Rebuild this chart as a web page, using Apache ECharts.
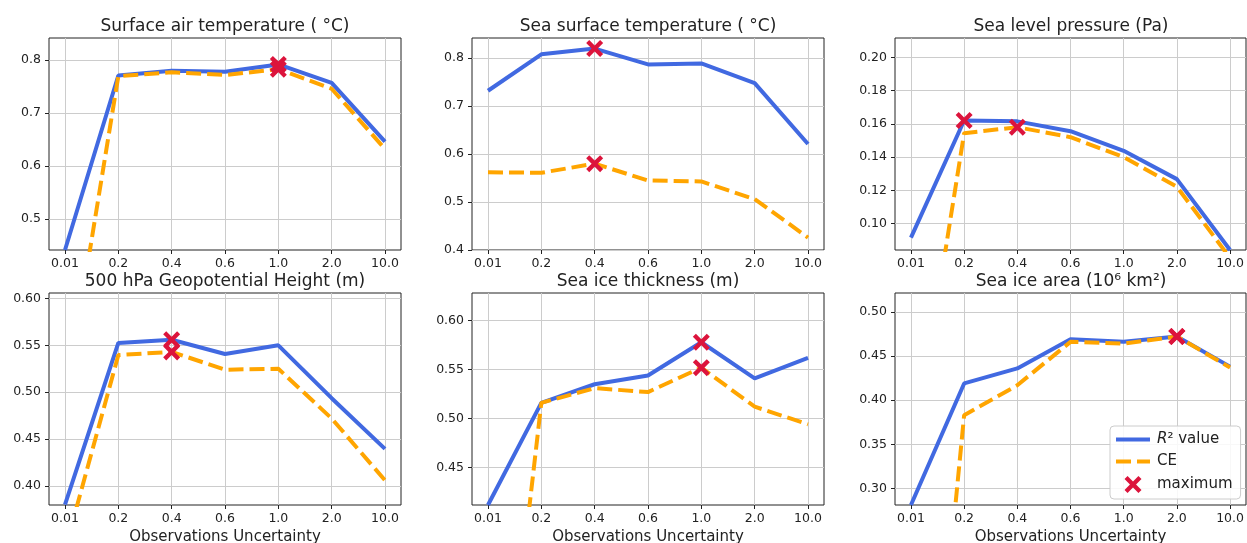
<!DOCTYPE html>
<html>
<head>
<meta charset="utf-8">
<script src="https://cdn.jsdelivr.net/npm/echarts@6/dist/echarts.min.js"></script>
<style>
  html, body { margin: 0; padding: 0; background: #ffffff; }
  #chart { width: 1247px; height: 543px; }
</style>
</head>
<body>
<div id="chart"></div>
<script>
// Observation-uncertainty levels shared by every panel
const categories = ['0.01', '0.2', '0.4', '0.6', '1.0', '2.0', '10.0'];

const panelTitles = [
  'Surface air temperature ( \u00B0C)',
  'Sea surface temperature ( \u00B0C)',
  'Sea level pressure (Pa)',
  '500 hPa Geopotential Height (m)',
  'Sea ice thickness (m)',
  'Sea ice area (10\u2076 km\u00B2)'
];

// R² value per variable
const r2SurfaceAir   = [0.441, 0.771, 0.780, 0.778, 0.792, 0.757, 0.646];
const r2SeaSurface   = [0.732, 0.808, 0.820, 0.787, 0.789, 0.748, 0.621];
const r2SeaLevelPres = [0.0916, 0.1620, 0.1615, 0.1556, 0.1438, 0.1268, 0.0842];
const r2Geopotential = [0.380, 0.5525, 0.556, 0.5407, 0.550, 0.4936, 0.4396];
const r2IceThickness = [0.4114, 0.516, 0.535, 0.544, 0.578, 0.541, 0.562];
const r2IceArea      = [0.2816, 0.419, 0.436, 0.469, 0.466, 0.472, 0.438];

// Coefficient of efficiency (CE) per variable
const ceSurfaceAir   = [0.152, 0.770, 0.777, 0.772, 0.783, 0.746, 0.632];
const ceSeaSurface   = [0.562, 0.561, 0.580, 0.545, 0.543, 0.506, 0.426];
const ceSeaLevelPres = [-0.046, 0.1544, 0.158, 0.152, 0.140, 0.1222, 0.0794];
const ceGeopotential = [0.332, 0.5396, 0.543, 0.524, 0.525, 0.472, 0.406];
const ceIceThickness = [0.041, 0.516, 0.531, 0.527, 0.552, 0.512, 0.494];
const ceIceArea      = [-0.235, 0.383, 0.417, 0.466, 0.464, 0.472, 0.437];

// Vertical axis limits and tick labels
const yLimits = [
  [0.441, 0.842], [0.400, 0.842], [0.0842, 0.2116],
  [0.3797, 0.6058], [0.4114, 0.6284], [0.2816, 0.5212]
];
const yTickValues = [
  [0.5, 0.6, 0.7, 0.8],
  [0.4, 0.5, 0.6, 0.7, 0.8],
  [0.10, 0.12, 0.14, 0.16, 0.18, 0.20],
  [0.40, 0.45, 0.50, 0.55, 0.60],
  [0.45, 0.50, 0.55, 0.60],
  [0.30, 0.35, 0.40, 0.45, 0.50]
];
const yDecimals = [1, 1, 2, 2, 2, 2];

const r2Series = [r2SurfaceAir, r2SeaSurface, r2SeaLevelPres, r2Geopotential, r2IceThickness, r2IceArea];
const ceSeries = [ceSurfaceAir, ceSeaSurface, ceSeaLevelPres, ceGeopotential, ceIceThickness, ceIceArea];

// Panel placement (pixels)
const colLeft = [49, 472, 895];
const rowTop = [38, 293];
const panelW = 352, panelH = 212;

const FONT = 'DejaVu Sans';
const INK = '#222222';
const BLUE = '#4169E1', ORANGE = '#FFA500', CRIMSON = '#DC143C';
const CE_DASH = [15, 6];
const CROSS = 'path://M0,1.8L1.8,0L5,3.2L8.2,0L10,1.8L6.8,5L10,8.2L8.2,10L5,6.8L1.8,10L0,8.2L3.2,5Z';

const catIdx = categories.map((_, i) => i);
const argmax = arr => arr.reduce((best, v, i) => (v > arr[best] ? i : best), 0);

const grids = [], xAxes = [], yAxes = [], series = [], titles = [];

for (let p = 0; p < 6; p++) {
  const row = Math.floor(p / 3), col = p % 3;
  const left = colLeft[col], top = rowTop[row];
  const width = col === 2 ? panelW - 1 : panelW;
  grids.push({
    left: left, top: top, width: width, height: panelH,
    show: true, borderColor: INK, borderWidth: 1,
    backgroundColor: 'transparent', containLabel: false, outerBoundsMode: 'none'
  });
  xAxes.push({
    type: 'value', gridIndex: p, min: -0.3, max: 6.3,
    axisLine: { show: false, onZero: false },
    axisTick: { show: true, length: 4, customValues: catIdx, lineStyle: { color: INK, width: 1 } },
    axisLabel: {
      customValues: catIdx, formatter: v => categories[Math.round(v)],
      color: INK, fontSize: 12.5, fontFamily: FONT, margin: 7
    },
    splitLine: { show: true, lineStyle: { color: '#cccccc', width: 1 } },
    name: row === 1 ? 'Observations Uncertainty' : '',
    nameLocation: 'middle', nameGap: 25,
    nameTextStyle: { fontSize: 15, color: INK, fontFamily: FONT }
  });
  const d = yDecimals[p];
  yAxes.push({
    type: 'value', gridIndex: p, min: yLimits[p][0], max: yLimits[p][1],
    axisLine: { show: false, onZero: false },
    axisTick: { show: true, length: 4, customValues: yTickValues[p], lineStyle: { color: INK, width: 1 } },
    axisLabel: {
      customValues: yTickValues[p], formatter: v => v.toFixed(d),
      color: INK, fontSize: 12.5, fontFamily: FONT, margin: 8
    },
    splitLine: { show: true, lineStyle: { color: '#cccccc', width: 1 } }
  });

  const r2 = r2Series[p], ce = ceSeries[p];
  series.push({
    name: 'R\u00B2 value', type: 'line', xAxisIndex: p, yAxisIndex: p,
    data: r2.map((v, i) => [i, v]), symbol: 'none', clip: true,
    lineStyle: { color: BLUE, width: 4 }, itemStyle: { color: BLUE }, z: 2
  });
  series.push({
    name: 'CE', type: 'line', xAxisIndex: p, yAxisIndex: p,
    data: ce.map((v, i) => [i, v]), symbol: 'none', clip: true,
    lineStyle: { color: ORANGE, width: 4, type: CE_DASH }, itemStyle: { color: ORANGE }, z: 3
  });
  const ir = argmax(r2), ic = argmax(ce);
  series.push({
    name: 'maximum', type: 'scatter', xAxisIndex: p, yAxisIndex: p,
    data: [[ir, r2[ir]], [ic, ce[ic]]],
    symbol: CROSS, symbolSize: 17, symbolKeepAspect: true,
    itemStyle: { color: CRIMSON, opacity: 1 }, z: 4
  });

  titles.push({
    type: 'text', x: left + panelW / 2, y: top - 11,
    style: {
      text: panelTitles[p], fill: INK, font: '17px "' + FONT + '"',
      textAlign: 'center', textVerticalAlign: 'middle'
    }
  });
}

const chart = echarts.init(document.getElementById('chart'), null, { renderer: 'canvas' });
chart.setOption({
  animation: false,
  backgroundColor: '#ffffff',
  textStyle: { fontFamily: FONT },
  grid: grids,
  xAxis: xAxes,
  yAxis: yAxes,
  series: series,
  graphic: titles,
  legend: {
    data: [
      { name: 'R\u00B2 value', itemStyle: { opacity: 0 }, lineStyle: { color: BLUE, width: 4, type: 'solid' } },
      { name: 'CE', itemStyle: { opacity: 0 }, lineStyle: { color: ORANGE, width: 4, type: CE_DASH } },
      { name: 'maximum' }
    ],
    orient: 'vertical', left: 1110, top: 426,
    itemWidth: 34, itemHeight: 17, itemGap: 7,
    padding: [6, 8, 6, 4],
    backgroundColor: 'rgba(255,255,255,0.85)',
    borderColor: '#cccccc', borderWidth: 1, borderRadius: 4,
    formatter: name => name === 'R\u00B2 value' ? '{r|R}\u00B2 value' : name,
    textStyle: {
      fontSize: 15, color: INK, fontFamily: FONT, padding: [0, 0, 0, 2],
      rich: { r: { fontSize: 15, fontStyle: 'italic', color: INK, fontFamily: FONT } }
    }
  }
});
</script>
</body>
</html>
